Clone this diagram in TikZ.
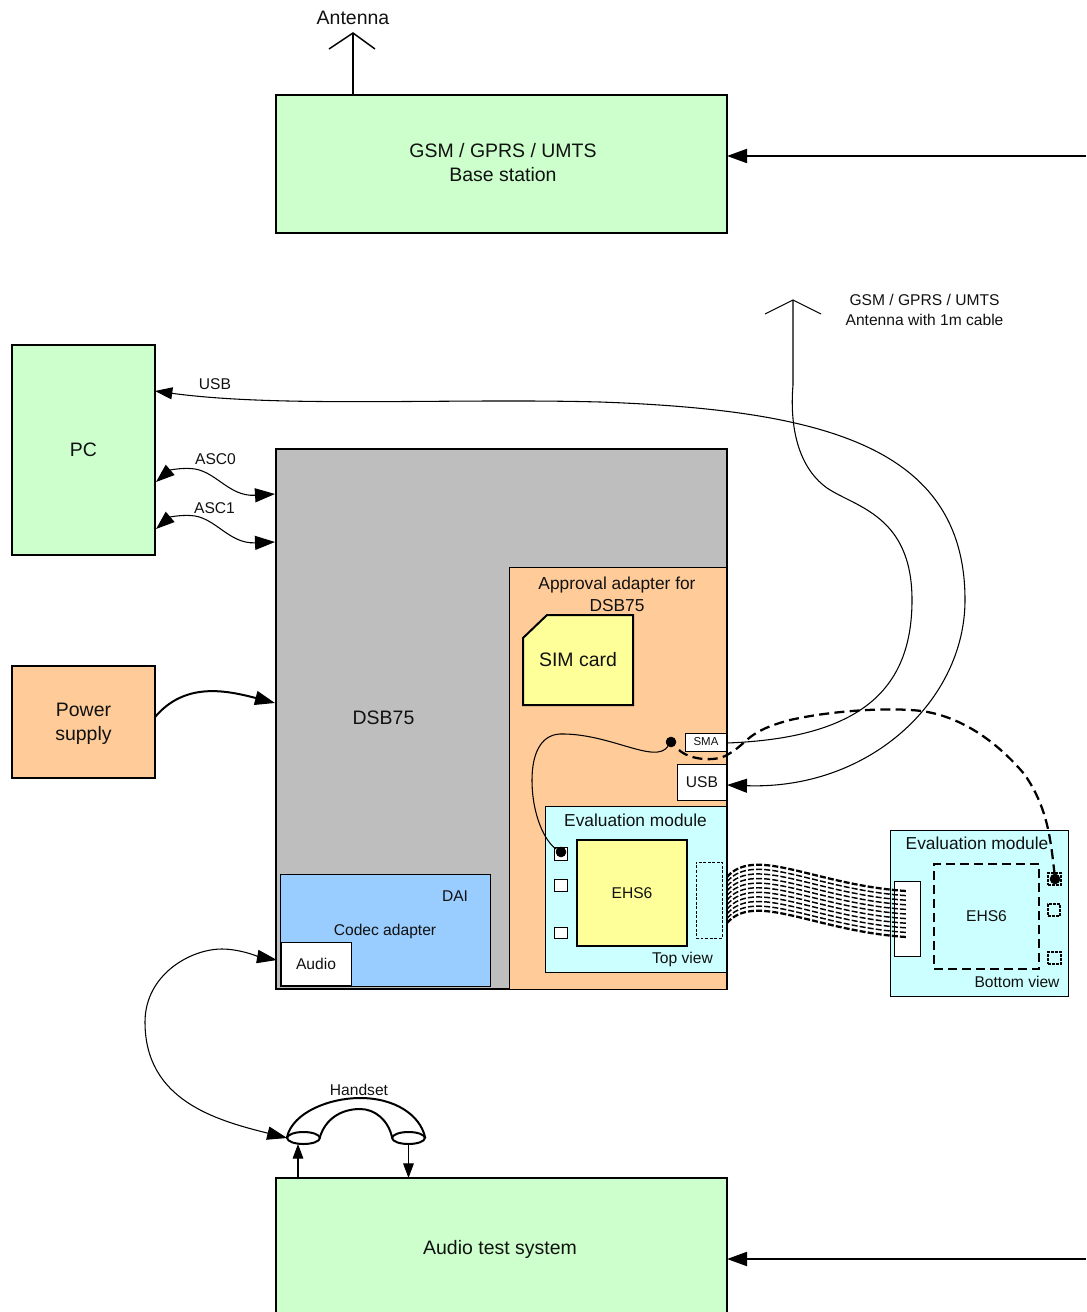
\documentclass[tikz,border=0pt]{standalone}
\usepackage{fontspec}
\setmainfont{Liberation Sans}
\usetikzlibrary{arrows.meta,calc,shapes.geometric}
\definecolor{gbox}{HTML}{CCFFCC}
\definecolor{obox}{HTML}{FFCC99}
\definecolor{gybox}{HTML}{BEBEBE}
\definecolor{bbox}{HTML}{99CCFF}
\definecolor{ybox}{HTML}{FFFF99}
\definecolor{cbox}{HTML}{CCFFFF}
\definecolor{txt}{HTML}{111111}
\newcommand{\bx}[7]{%
  \pgfmathsetmacro\bxw{(#4-#2)*0.75}%
  \pgfmathsetmacro\bxh{(#5-#3)*0.75}%
  \node[#6,minimum width=\bxw pt,minimum height=\bxh pt] (#1) at ({(#2+#4)/2},{(#3+#5)/2}) {#7};}
\tikzset{
  boxbase/.style={draw=black,inner sep=0pt,outer sep=0pt,align=center,text=txt},
  mainbox/.style={boxbase,line width=1.5pt},
  lightbox/.style={boxbase,line width=.6pt},
  dashbox/.style={boxbase,line width=1.7pt,dash pattern=on 7pt off 3.5pt},
  finedash/.style={boxbase,line width=.7pt,dash pattern=on 2.2pt off 1.2pt},
  paddash/.style={boxbase,line width=1pt,dash pattern=on 2pt off 1pt},
  bigt/.style={font=\fontsize{14.6pt}{18pt}\selectfont},
  midt/.style={font=\fontsize{13pt}{16.5pt}\selectfont},
  smallt/.style={font=\fontsize{11.7pt}{15pt}\selectfont},
  tinyt/.style={font=\fontsize{8.6pt}{10pt}\selectfont},
  lbl/.style={inner sep=0pt,outer sep=0pt,align=center,text=txt},
  bigtip/.style={-{Triangle[length=15pt,width=10.5pt]}},
  smalltip/.style={-{Triangle[length=11pt,width=8pt]}},
  asctip/.style={{Triangle[length=14pt,width=10pt]}-{Triangle[length=15pt,width=10.5pt]}},
  wire/.style={line width=.8pt},
  dot/.style={circle,fill=black,draw=black,inner sep=0pt,minimum size=7.5pt},
  cord/.style={line width=1.7pt,dash pattern=on 7.5pt off 4pt},
  ribbon/.style={dash pattern=on 4.5pt off 1.6pt},
  earcap/.style={ellipse,draw=black,line width=1.5pt,fill=white,inner sep=0pt,outer sep=0pt,minimum width=24.5pt,minimum height=9pt},
}
\begin{document}
\begin{tikzpicture}[x=0.75pt,y=-0.75pt]
\useasboundingbox (0,0) rectangle (1086,1312);
\clip (0,0) rectangle (1086,1312);
% main boxes
\bx{base}{276}{95}{727}{233}{mainbox,fill=gbox}{}
\bx{pc}{12}{345}{155}{555}{mainbox,fill=gbox,bigt}{PC}
\bx{power}{12}{666}{155}{778}{mainbox,fill=obox}{}
\bx{dsb}{276}{449}{727}{989}{mainbox,fill=gybox}{}
\bx{approval}{509}{567}{727}{989}{lightbox,fill=obox}{}
\bx{codec}{280}{874}{490}{986}{lightbox,fill=bbox}{}
\bx{audio}{281}{942}{351}{985}{lightbox,fill=white,smallt}{Audio}
\bx{sma}{685}{733}{727}{751}{lightbox,fill=white,tinyt}{SMA}
\bx{usbbox}{677}{764}{727}{800}{lightbox,fill=white,smallt}{USB}
\bx{evaltop}{545}{806}{727}{972}{lightbox,fill=cbox}{}
\bx{ehstop}{577}{840}{687}{946}{mainbox,fill=ybox,smallt}{EHS6}
\bx{padA}{554}{847}{567}{860}{lightbox,fill=white}{}
\bx{padB}{554}{879}{567}{891}{lightbox,fill=white}{}
\bx{padC}{554}{927}{567}{938}{lightbox,fill=white}{}
\bx{slot}{696}{862}{722}{938}{finedash}{}
\bx{test}{276}{1178}{727}{1340}{mainbox,fill=gbox}{}
\bx{evalbot}{890}{830}{1068}{996}{lightbox,fill=cbox}{}
\bx{conn}{894}{881}{920}{956}{lightbox,fill=white}{}
\bx{ehsbot}{934}{864}{1039}{969}{dashbox,smallt}{EHS6}
\bx{padD}{1048}{873}{1061}{885}{paddash}{}
\bx{padE}{1048}{904}{1060}{916}{paddash}{}
\bx{padF}{1048}{952}{1061}{964}{paddash}{}
\draw[line width=1.5pt] (approval.north east) -- (approval.south east);
% SIM card
\draw[line width=1.5pt,fill=ybox] (547,615) -- (633,615) -- (633,705) -- (523,705) -- (523,638) -- cycle;
% labels
\node[lbl,bigt] (lbase) at (503,163) {GSM / GPRS / UMTS\\Base station};
\node[lbl,bigt] (lpower) at (83.5,723.5) {Power\\supply};
\node[lbl,bigt] (lantenna) at (353,18) {Antenna};
\node[lbl,smallt] (lgsm) at (924.5,310) {GSM / GPRS / UMTS\\Antenna with 1m cable};
\node[lbl,smallt] (lusb) at (215,384) {USB};
\node[lbl,smallt] (lasc0) at (215.5,459) {ASC0};
\node[lbl,smallt] (lasc1) at (214.5,508) {ASC1};
\node[lbl,bigt] (ldsb) at (383.5,718) {DSB75};
\node[lbl,midt] (lappr) at (617,594) {Approval adapter for\\DSB75};
\node[lbl,bigt] (lsim) at (578,659.5) {SIM card};
\node[lbl,smallt] (ldai) at (455,896) {DAI};
\node[lbl,smallt] (lcodec) at (385,931.5) {Codec adapter};
\node[lbl,midt] (levaltop) at (635.5,820) {Evaluation module};
\node[lbl,smallt] (ltop) at (682.5,959) {Top view};
\node[lbl,midt] (levalbot) at (977,843) {Evaluation module};
\node[lbl,smallt] (lbot) at (1017,982) {Bottom view};
\node[lbl,smallt] (lhand) at (359,1090) {Handset};
\node[lbl,bigt] (ltest) at (500,1249) {Audio test system};
% named connector ends
\coordinate (antfoot) at (353,95);
\coordinate (anttip) at (353,33);
\coordinate (antL) at (329,49);
\coordinate (antR) at (375,49);
\coordinate (rtop) at (1086,156);
\coordinate (basein) at (727,156);
\coordinate (rbot) at (1086,1259);
\coordinate (testin) at (727,1259);
\coordinate (cabtip) at (793,300);
\coordinate (cabL) at (765,314);
\coordinate (cabR) at (821,314);
\coordinate (pcusb) at (155,391);
\coordinate (pcA) at (156,482);
\coordinate (pcB) at (156,529);
\coordinate (dsbA) at (275,494);
\coordinate (dsbB) at (275,542);
\coordinate (dsbP) at (275,703);
\coordinate (powerout) at (155,717);
\coordinate (usbin) at (727,785);
\coordinate (smaout) at (727,743);
\coordinate (audioin) at (277,960);
\node[dot] (dotA) at (671,742) {};
\node[dot] (dotB) at (561,852) {};
\node[dot] (dotC) at (1055,879) {};
% handset
\coordinate (hsL) at (287,1137);
\coordinate (hsR) at (425,1137);
\coordinate (hsIL) at (320,1137);
\coordinate (hsIR) at (392,1137);
\draw[line width=1.5pt,fill=white] (hsL) .. controls (293,1112) and (330,1098) .. (360,1098) .. controls (395,1098) and (420,1115) .. (hsR) -- (hsIR) .. controls (388,1120) and (375,1109) .. (360,1109) .. controls (340,1109) and (325,1120) .. (hsIL) -- cycle;
\node[earcap] (earL) at (303.5,1138) {};
\node[earcap] (earR) at (408.5,1138) {};
% straight connectors
\draw[line width=1.5pt] (antfoot) -- (anttip);
\draw[line width=1.1pt] (antL) -- (anttip) -- (antR);
\draw[line width=1.5pt,bigtip] (rtop) -- (basein);
\draw[line width=1.5pt,bigtip] (rbot) -- (testin);
\draw[wire,smalltip] (test.north -| 298,0) -- (earL.south -| 298,0);
\draw[wire,smalltip] (earR.south) -- (earR.south |- test.north);
% curved connectors
\draw[wire] (cabL) -- (cabtip) -- (cabR);
\draw[wire] (cabtip) -- (793,385) .. controls (790,420) and (795,465) .. (827,488) .. controls (855,507) and (912,515) .. (912,600) .. controls (912,690) and (860,738) .. (smaout);
\draw[wire,-{Triangle[length=13pt,width=9pt]}] (965,600) .. controls (965,445) and (820,410) .. (600,402) .. controls (450,398) and (280,408) .. (pcusb);
\draw[wire,bigtip] (965,600) .. controls (965,700) and (870,790) .. (usbin);
\draw[wire,asctip] (pcA) .. controls (170,470) and (180,468) .. (190,468.5) .. controls (215,469) and (228,497) .. (dsbA);
\draw[wire,asctip] (pcB) .. controls (170,517) and (180,515) .. (190,515.5) .. controls (215,516) and (228,544) .. (dsbB);
\draw[line width=1.5pt,bigtip] (powerout) .. controls (185,682) and (225,690) .. (dsbP);
\draw[wire,{Triangle[length=15pt,width=10pt]}-{Triangle[length=15pt,width=10pt]}] (earL.west) .. controls (215,1120) and (145,1100) .. (145,1022) .. controls (145,975) and (190,949) .. (222,949) .. controls (240,949) and (260,957) .. (audioin);
\draw[wire] (dotA) .. controls (655,765) and (610,733) .. (560,734) .. controls (540,735) and (532,755) .. (532,780) .. controls (532,815) and (545,842) .. (dotB);
\draw[cord] (679,750) .. controls (690,760) and (715,762) .. (727,755) .. controls (750,742) and (745,732) .. (790,720) .. controls (830,711) and (880,708) .. (910,710) .. controls (960,712) and (1000,745) .. (1025,775) .. controls (1045,805) and (1050,830) .. (dotC);
% ribbon
\foreach \i in {0,...,10} {
  \pgfmathsetmacro\t{\i/10*46}
  \pgfmathsetmacro\ls{(\i==0||\i==10)?1.7:1.1}
  \coordinate (ribL\i) at (727,{877+\t});
  \coordinate (ribR\i) at (906,{891+\t});
  \draw[ribbon,line width=\ls pt] (ribL\i) .. controls (755,{845+\t}) and (815,{885+\t}) .. (ribR\i);
}
\end{tikzpicture}
\end{document}
